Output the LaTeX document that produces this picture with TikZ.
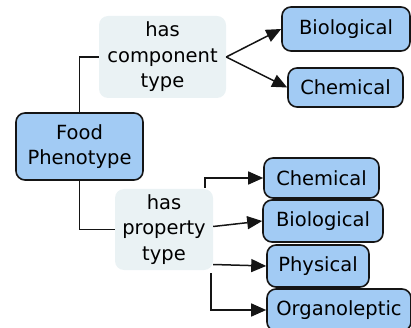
\documentclass[tikz,border=0pt]{standalone}
\usepackage{fontspec}
\setmainfont{DejaVu Sans}
\usepackage{tikz}
\usetikzlibrary{arrows.meta,positioning}
\definecolor{fpClass}{HTML}{A2CBF4}
\definecolor{fpLink}{HTML}{EAF2F4}
\definecolor{fpBorder}{HTML}{151515}
\tikzset{
    concept/.style={rectangle,rounded corners=9pt,draw=fpBorder,fill=fpClass,line width=1.6pt,align=center,inner sep=0pt},
    linkphrase/.style={rectangle,rounded corners=9pt,fill=fpLink,align=center,inner sep=0pt},
    plainlink/.style={line width=1.5pt,draw=fpBorder},
    arrowlink/.style={-{Triangle[length=15pt,width=13pt]},line width=1.5pt,draw=fpBorder}
}

\begin{document}
\begin{tikzpicture}[x=1pt,y=-1pt,font=\fontsize{19.5}{25.5}\selectfont]
    \useasboundingbox (0,0) rectangle (411,328);

    % Concepts
    \node[concept,minimum width=127pt,minimum height=67pt] (food) at (79.5,146.5) {Food\\Phenotype};
    \node[concept,minimum width=128pt,minimum height=44pt] (bioA) at (346,29) {Biological};
    \node[concept,minimum width=115pt,minimum height=39pt] (chemA) at (345.5,87.5) {Chemical};
    \node[concept,minimum width=115pt,minimum height=40pt] (chemB) at (321.5,178) {Chemical};
    \node[concept,minimum width=120pt,minimum height=42pt] (bioB) at (323,221) {Biological};
    \node[concept,minimum width=102pt,minimum height=42pt] (phys) at (318,266) {Physical};
    \node[concept,minimum width=144pt,minimum height=42pt] (organo) at (339,310) {Organoleptic};

    % Linking phrases
    \node[linkphrase,minimum width=127pt,minimum height=82pt] (hascomp) at (162.5,57) {has\\component\\type};
    \node[linkphrase,minimum width=98pt,minimum height=81pt] (hasprop) at (164,229.5) {has\\property\\type};

    % Connections
    \draw[plainlink] (food.north) |- (hascomp.west);
    \draw[plainlink] (food.south) |- (hasprop.west);
    \draw[arrowlink] (hascomp.east) -- (bioA.west);
    \draw[arrowlink] (hascomp.east) -- (chemA.west);
    \draw[arrowlink] ([xshift=-8pt,yshift=1pt]hasprop.north east) |- (chemB.west);
    \draw[arrowlink] ([yshift=3pt]hasprop.east) -- (bioB.west);
    \draw[arrowlink] ([yshift=-35pt]hasprop.east) -- (phys.west);
    \draw[arrowlink] ([xshift=-2pt,yshift=-3pt]hasprop.south east) |- (organo.west);
\end{tikzpicture}
\end{document}
